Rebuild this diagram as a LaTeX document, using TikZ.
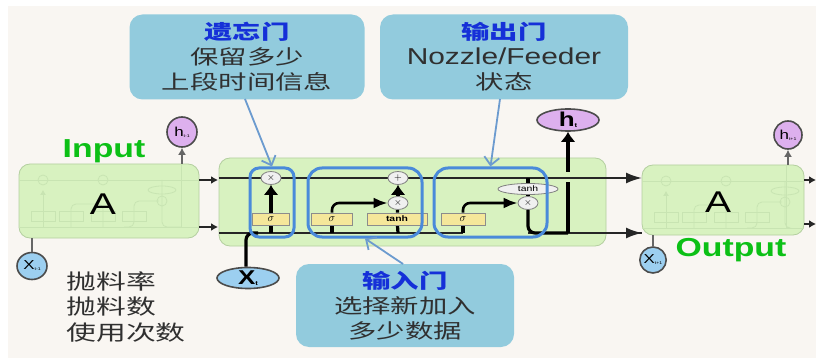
\documentclass[tikz,border=0pt]{standalone}
\usepackage{fontspec}
\setmainfont[FakeStretch=1.3]{Liberation Sans}
\newfontfamily\cjk[FakeStretch=1.42]{Noto Sans CJK SC}
\usetikzlibrary{arrows.meta, backgrounds, shapes.geometric}
\definecolor{paper}{HTML}{F9F6F2}
\definecolor{cellgreen}{HTML}{D8F2C0}
\definecolor{celledge}{HTML}{B4CFA0}
\definecolor{callout}{HTML}{92CBDD}
\definecolor{gateblue}{HTML}{4A8ADA}
\definecolor{pointer}{HTML}{6C9BCF}
\definecolor{titleblue}{HTML}{1530D8}
\definecolor{labelgreen}{HTML}{0CC016}
\definecolor{sigmayellow}{HTML}{F5E79A}
\definecolor{faded}{HTML}{C8E4B2}
\definecolor{hviolet}{HTML}{DDB0EE}
\definecolor{xblue}{HTML}{9CCFF0}
\definecolor{bodyink}{HTML}{303030}

\tikzset{
	fadedcell/.pic={
		\draw[faded,thick] (0,16) -- (#1,16) (0,63) -- (#1,63);
		\draw[faded,thick,-{Latex[length=5pt,width=6pt]}] (24,63) -- (24,26);
		\draw[faded,thick,rounded corners=5pt] (52,63) -- (52,40) -- (84,40) -- (84,63);
		\draw[faded,thick,rounded corners=5pt] (105,63) -- (115,63) -- (115,37) -- (140,37);
		\draw[faded,thick,rounded corners=5pt] (143,16) -- (143,63) -- (#1-18,63);
		\draw[faded,thick] (#1-18,0) -- (#1-18,63);
		\draw[faded,thick] (24,16) circle (5) (84,16) circle (5) (143,37) circle (5);
		\draw[faded,thick] (143,26) ellipse (14 and 4);
		\foreach \boxx in {24,52,84,115}
			\draw[faded,thick] (\boxx-12,47) rectangle (\boxx+12,57);
	}
}

\begin{document}
\begin{tikzpicture}[x=1pt,y=-1pt,thick]
	\tikzstyle{cell}=[draw=celledge,thick,fill=cellgreen,rounded corners=11pt,inner sep=0pt]
	\tikzstyle{wire}=[draw=black!85,line width=2pt]
	\tikzstyle{heavy}=[draw=black,line width=3.2pt,rounded corners=7pt]
	\tikzstyle{bighead}=[-{Latex[length=10pt,width=15pt]}]
	\tikzstyle{midhead}=[-{Latex[length=7pt,width=8pt]}]
	\tikzstyle{greyline}=[draw=black!60,line width=2.4pt]
	\tikzstyle{sigma}=[draw=black!45,fill=sigmayellow,minimum height=12pt,inner sep=0pt,font=\bfseries\fontsize{11}{11}\selectfont]
	\tikzstyle{op}=[draw=black!50,fill=black!6,ellipse,inner sep=0pt,minimum width=20pt,minimum height=13pt,font=\fontsize{10}{10}\selectfont]
	\tikzstyle{gate}=[draw=gateblue,line width=3pt,rounded corners=9pt,inner sep=0pt]
	\tikzstyle{note}=[fill=callout,rounded corners=13pt,align=center,inner sep=0pt,text=bodyink,font=\cjk\fontsize{20}{25}\selectfont]
	\tikzstyle{aim}=[draw=pointer,line width=1.8pt,-{Straight Barb[length=8pt,width=15pt]}]
	\tikzstyle{hbig}=[draw=black!70,line width=1.6pt,fill=hviolet,ellipse,inner sep=0pt]
	\tikzstyle{xbig}=[draw=black!70,line width=1.6pt,fill=xblue,ellipse,inner sep=0pt]

	\useasboundingbox (0,0) rectangle (816,358);

	% the three cells
	\node[cell,minimum width=180pt,minimum height=74pt] (cellIn) at (109,201) {};
	\node[cell,minimum width=162pt,minimum height=70pt] (cellOut) at (723,200) {};
	\pic at (19,164) {fadedcell=180};
	\pic at (642,165) {fadedcell=162};
	\node[font=\fontsize{30}{30}\selectfont] (letterIn) at (103,204) {A};
	\node[font=\fontsize{30}{30}\selectfont] (letterOut) at (718,202) {A};
	\node[text=labelgreen,font=\bfseries\fontsize{26}{26}\selectfont] (inputLabel) at (104,151) {Input};
	\node[text=labelgreen,font=\bfseries\fontsize{26}{26}\selectfont] (outputLabel) at (731,250) {Output};

	% operators in the middle cell
	\node[op] (forgetTimes) at (271,178) {$\times$};
	\node[op] (plusTop) at (398,178) {$+$};
	\node[op] (inputTimes) at (398,203) {$\times$};
	\node[op,minimum width=60pt,minimum height=11pt,font=\fontsize{8}{8}\selectfont] (outTanh) at (528,189) {tanh};
	\node[op] (outTimes) at (528,203) {$\times$};
	\node[sigma,minimum width=37pt] (sigmaForget) at (271,219) {$\sigma$};
	\node[sigma,minimum width=41pt] (sigmaInput) at (332,219) {$\sigma$};
	\node[sigma,minimum width=60pt,font=\bfseries\fontsize{8}{8}\selectfont] (tanhInput) at (397,219) {tanh};
	\node[sigma,minimum width=44pt] (sigmaOut) at (463,219) {$\sigma$};

	% free ends of the lines
	\coordinate (topLeft) at (219,178);
	\coordinate (topRight) at (642,178);
	\coordinate (lowLeft) at (219,233);
	\coordinate (lowRight) at (642,233);
	\coordinate (lowBend) at (463,233);
	\coordinate (xBend) at (246,233);
	\coordinate (xTurn) at (258,233);
	\coordinate (outBend) at (528,233);
	\coordinate (outTurn) at (568,233);
	\coordinate (gapLow) at (568,182);
	\coordinate (gapHigh) at (568,172);
	\coordinate (tapForget) at (271,233);
	\coordinate (tapSigma) at (332,233);
	\coordinate (tapTanh) at (398,233);
	\coordinate (inTopA) at (199,180);
	\coordinate (inTopB) at (218,180);
	\coordinate (inLowA) at (199,227);
	\coordinate (inLowB) at (218,227);
	\coordinate (outTopA) at (804,180);
	\coordinate (outTopB) at (816,180);
	\coordinate (outLowA) at (804,224);
	\coordinate (outLowB) at (816,224);

	\begin{scope}[on background layer]
		\fill[white] (0,0) rectangle (816,358);
		\fill[paper] (8,6) rectangle (816,358);
		\node[cell,minimum width=387pt,minimum height=88pt] (cellMid) at (412.5,202) {};
		\draw[wire] (topLeft) -- (cellMid.east |- topLeft);
		\draw[wire] (lowLeft) -- (lowBend);
		\draw[wire] (outBend) -- (lowRight);
		\draw[heavy] (tapForget) -- (sigmaForget);
		\draw[heavy] (tapSigma) -- (sigmaInput);
		\draw[heavy] (tapTanh) -- (tanhInput);
		\draw[heavy] (tanhInput) -- (inputTimes);
		\draw[heavy] (lowBend) -- (sigmaOut);
	\end{scope}

	% wires on top of the boxes
	\draw[wire,-{Latex[length=16pt,width=11pt]}] (cellMid.east |- topLeft) -- (topRight);
	\draw[wire,-{Latex[length=16pt,width=11pt]}] (cellMid.east |- lowLeft) -- (lowRight);
	\draw[heavy,bighead] (sigmaForget) -- (forgetTimes);
	\draw[heavy,bighead] (inputTimes) -- (plusTop);
	\draw[heavy,line width=2.6pt,-{Latex[length=14pt,width=11pt]}] (sigmaInput.north) |- (inputTimes);
	\draw[heavy,line width=2.6pt,-{Latex[length=14pt,width=11pt]}] (sigmaOut.north) |- (outTimes);
	\draw[heavy] (outTanh) -- (outTimes);
	\draw[heavy] (outTimes) -- (outBend) -- (outTurn);
	\draw[heavy] (topLeft -| outTimes) -- (outTanh);

	% the big outside nodes
	\node[hbig,minimum width=62pt,minimum height=22pt,font=\bfseries\fontsize{20}{20}\selectfont] (hNow) at (568,120) {h\raisebox{-1pt}{\fontsize{6}{6}\selectfont t}};
	\node[xbig,minimum width=62pt,minimum height=21pt,font=\bfseries\fontsize{20}{20}\selectfont] (xNow) at (248,278) {X\raisebox{-1pt}{\fontsize{6}{6}\selectfont t}};
	\node[hbig,minimum width=30pt,minimum height=30pt,font=\fontsize{13}{13}\selectfont] (hPrev) at (182,132) {h\raisebox{-1pt}{\fontsize{4}{4}\selectfont t-1}};
	\node[xbig,minimum width=30pt,minimum height=27pt,font=\fontsize{13}{13}\selectfont] (xPrev) at (32,266) {X\raisebox{-1pt}{\fontsize{4}{4}\selectfont t-1}};
	\node[hbig,minimum width=28pt,minimum height=28pt,font=\fontsize{13}{13}\selectfont] (hNext) at (788,135) {h\raisebox{-1pt}{\fontsize{4}{4}\selectfont t+1}};
	\node[xbig,minimum width=26pt,minimum height=26pt,font=\fontsize{13}{13}\selectfont] (xNext) at (653,260) {X\raisebox{-1pt}{\fontsize{4}{4}\selectfont t+1}};

	\draw[heavy,bighead,line width=3.6pt] (gapHigh) -- (hNow);
	\draw[heavy,line width=3.6pt] (outTurn) -- (gapLow);
	\draw[heavy] (xNow.north -| xBend) -- (xBend) -- (xTurn);
	\draw[greyline,midhead] (cellIn.north -| hPrev) -- (hPrev);
	\draw[greyline] (xPrev) -- (cellIn.south -| xPrev);
	\draw[greyline,midhead] (cellOut.north -| hNext) -- (hNext);
	\draw[greyline] (xNext) -- (cellOut.south -| xNext);
	\draw[wire,-{Latex[length=7pt,width=8pt]}] (inTopA) -- (inTopB);
	\draw[wire,-{Latex[length=7pt,width=8pt]}] (inLowA) -- (inLowB);
	\draw[wire,-{Latex[length=7pt,width=8pt]}] (outTopA) -- (outTopB);
	\draw[wire,-{Latex[length=7pt,width=8pt]}] (outLowA) -- (outLowB);

	% gates and their call-outs
	\node[gate,minimum width=44pt,minimum height=69pt] (gateForget) at (272,202.5) {};
	\node[gate,minimum width=114pt,minimum height=69pt,rounded corners=14pt] (gateInput) at (365,202.5) {};
	\node[gate,minimum width=113pt,minimum height=69pt,rounded corners=14pt] (gateOutput) at (490.5,202.5) {};

	\node[note,minimum width=235pt,minimum height=85pt] (noteForget) at (247,57) {{\bfseries\color{titleblue}遗忘门}\\保留多少\\上段时间信息};
	\node[note,minimum width=248pt,minimum height=85pt] (noteOutput) at (504,57) {{\bfseries\color{titleblue}输出门}\\{\rmfamily\fontsize{23}{25}\selectfont Nozzle/Feeder}\\状态};
	\node[note,minimum width=218pt,minimum height=83pt] (noteInput) at (405,305.5) {{\bfseries\color{titleblue}输入门}\\选择新加入\\多少数据};

	\coordinate (aimForget) at (245,99);
	\coordinate (aimOutput) at (500,99);
	\coordinate (aimInput) at (403,264);
	\draw[aim] (aimForget) -- (gateForget.north);
	\draw[aim] (aimOutput) -- (gateOutput.north);
	\draw[aim] (aimInput) -- (gateInput.south);

	\node[align=left,anchor=north west,inner sep=0pt,text=bodyink,font=\cjk\fontsize{21}{25.5}\selectfont] (rates) at (66,271) {抛料率\\抛料数\\使用次数};
\end{tikzpicture}
\end{document}
